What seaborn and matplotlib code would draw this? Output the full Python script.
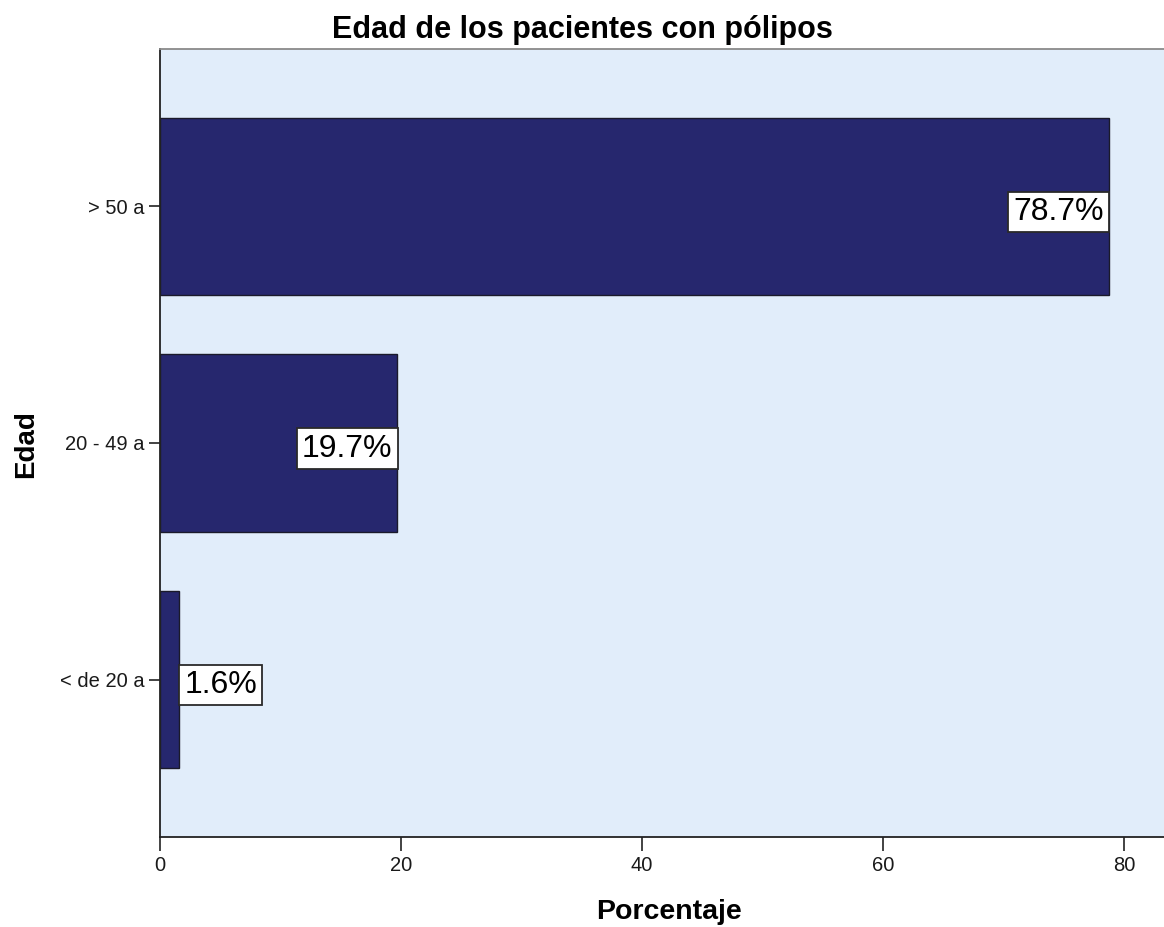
import matplotlib
matplotlib.use('Agg')
import matplotlib.pyplot as plt
import seaborn as sns
import pandas as pd

# Datos del gráfico
categorias = ['> 50 a', '20 - 49 a', '< de 20 a']  # Grupos de edad (de arriba a abajo)
porcentajes = [78.7, 19.7, 1.6]  # Porcentaje de pacientes por grupo
ticks_x = [0, 20, 40, 60, 80]

df = pd.DataFrame({'Edad': categorias, 'Porcentaje': porcentajes})

sns.set_style('white')
plt.rcParams['font.family'] = ['Liberation Sans', 'DejaVu Sans']
plt.rcParams['text.color'] = 'black'

fig = plt.figure(figsize=(11.64, 9.27), dpi=100)
ax = fig.add_axes([160 / 1164, 90 / 927, 1.0 - 160 / 1164, (837 - 49) / 927])
ax.set_facecolor('#E1EDFA')

sns.barplot(data=df, x='Porcentaje', y='Edad', order=categorias, orient='h',
            color='#26276E', saturation=1, width=0.75,
            edgecolor='#1a1a2a', linewidth=1.0, ax=ax)

ax.set_xlim(0, 83.3)
ax.set_ylim(2.665, -0.665)
ax.set_xticks(ticks_x)
ax.set_xticklabels([str(t) for t in ticks_x], fontsize=14.5)
ax.tick_params(axis='y', labelsize=14.5, length=8, width=1.2, color='#222222', labelcolor='#1a1a1a', pad=3)
ax.tick_params(axis='x', length=10, width=1.2, color='#222222', labelcolor='#1a1a1a', pad=4)
ax.tick_params(left=True, bottom=True)

ax.spines['left'].set_color('#222222')
ax.spines['left'].set_linewidth(1.3)
ax.spines['bottom'].set_color('#222222')
ax.spines['bottom'].set_linewidth(1.3)
ax.spines['top'].set_color('#8a8a8a')
ax.spines['top'].set_linewidth(1.3)
ax.spines['right'].set_visible(False)

ax.set_xlabel('')
ax.set_ylabel('')

# Etiquetas de porcentaje en cajas blancas
for i, v in enumerate(porcentajes):
    if v > 10:
        ha, dx = 'right', -3.5
    else:
        ha, dx = 'left', 3.5
    ax.annotate(f'{v:.1f}%', xy=(v, i), xytext=(dx, -4), textcoords='offset points',
                ha=ha, va='center', fontsize=23, color='black',
                bbox=dict(boxstyle='square,pad=0.16', facecolor='white',
                          edgecolor='#2a2a2a', linewidth=1.3))

fig.text(0.5, 1 - 38 / 927, 'Edad de los pacientes con pólipos', ha='center', va='baseline',
         fontsize=22, fontweight='bold', color='black')
fig.text(669 / 1164, 1 - 919 / 927, 'Porcentaje', ha='center', va='baseline',
         fontsize=20.5, fontweight='bold', color='black')
fig.text(33 / 1164, 1 - 444 / 927, 'Edad', ha='center', va='baseline', rotation=90,
         rotation_mode='anchor', fontsize=20, fontweight='bold', color='black')

fig.savefig('out.png', dpi=100)
